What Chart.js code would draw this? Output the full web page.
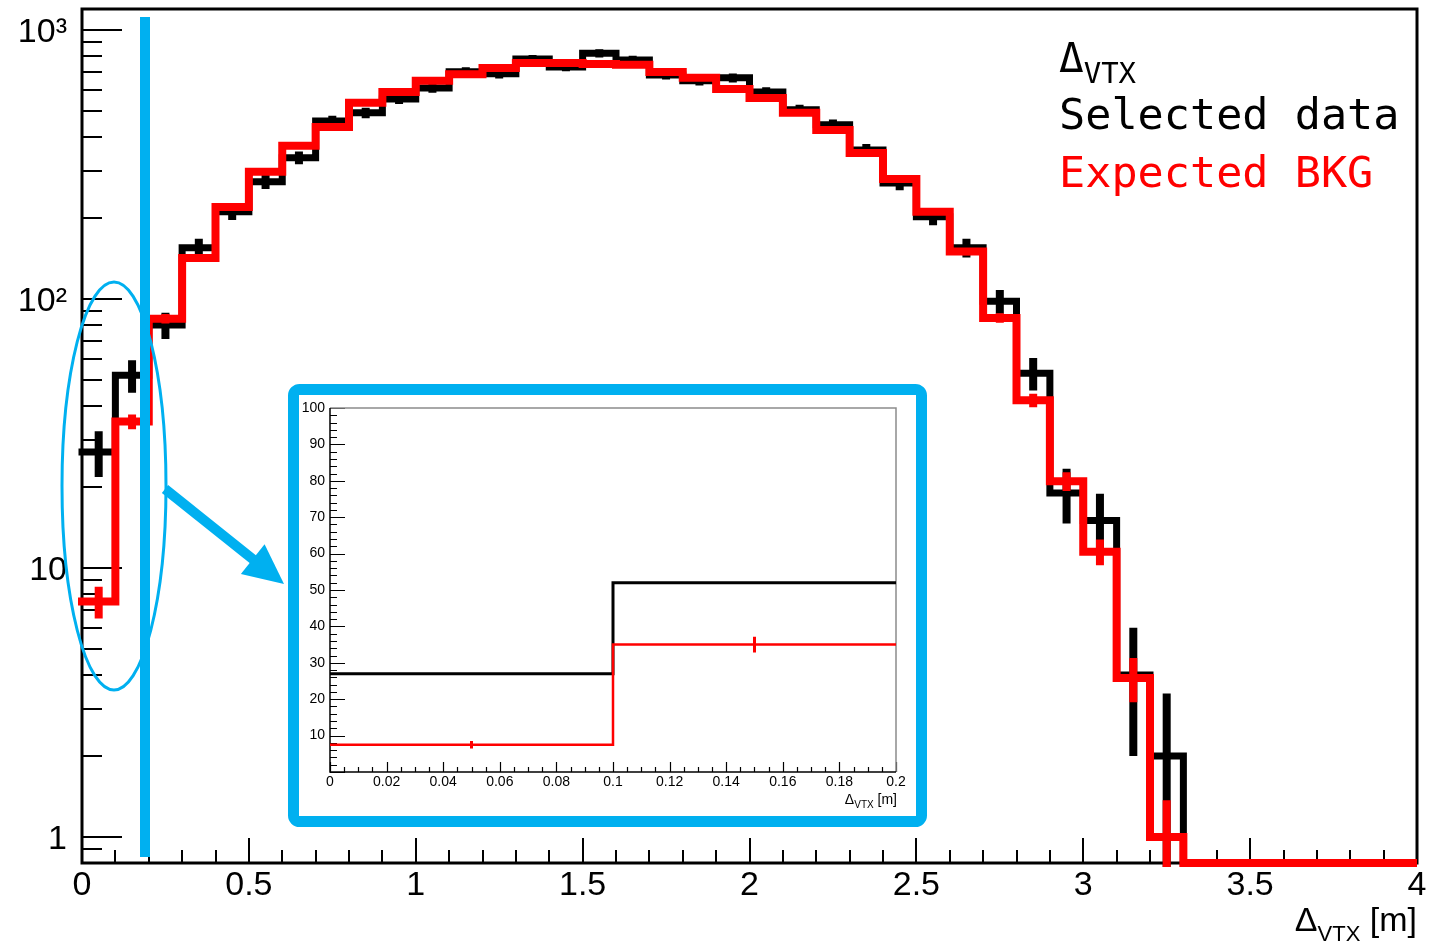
<!DOCTYPE html>
<html>
<head>
<meta charset="utf-8">
<title>ΔVTX</title>
<script src="https://cdn.jsdelivr.net/npm/chart.js@4.4.0/dist/chart.umd.min.js"></script>
<style>
  body { margin: 0; background: #fff; }
  .wrap { position: relative; width: 1435px; height: 942px; }
  #main { position: absolute; left: 0; top: 0; }
  #zoom { position: absolute; left: 299px; top: 395px; background: #fff; }
</style>
</head>
<body>
<div class="wrap">
  <canvas id="main" width="1435" height="942"></canvas>
  <canvas id="zoom" width="617" height="421"></canvas>
</div>
<script>
// Δ_VTX histograms, 40 bins of 0.1 m between 0 and 4 m
const binWidth = 0.1
const nBins = 40
const dataCounts = [27, 52, 80, 155, 211, 273, 335, 459, 492, 554,
  609, 700, 687, 780, 729, 819, 774, 680, 647, 664,
  588, 505, 444, 358, 270, 202, 155, 98, 53, 19,
  15, 4, 2, 0, 0, 0, 0, 0, 0, 0]
const bkgCounts = [7.5, 35, 84.5, 142, 220, 297, 371, 436, 536, 588,
  647, 685, 722, 754, 754, 747, 742, 698, 664, 604,
  559, 492, 425, 349, 279, 211, 150, 85, 42, 21,
  11.5, 3.9, 1.0, 0, 0, 0, 0, 0, 0, 0]
// weight of one expected BKG event (error = weight * sqrt(N))
const bkgErrScale = 0.37

const xTickLabels = ['0', '0.5', '1', '1.5', '2', '2.5', '3', '3.5', '4']
const yTickLabels = [[1, '1'], [10, '10'], [100, '10²'], [1000, '10³']]
const zoomXTickLabels = ['0', '0.02', '0.04', '0.06', '0.08', '0.1', '0.12', '0.14', '0.16', '0.18', '0.2']
const zoomYTickLabels = ['', '10', '20', '30', '40', '50', '60', '70', '80', '90', '100']

const yLogMin = 0.8
const yLogMax = 1197
const BLUE = '#00b0f0'
const RED = '#ff0000'

Chart.defaults.font.family = '"Liberation Sans", Arial, sans-serif'
Chart.defaults.color = '#000'

// step points at the bin edges; empty bins sit on the floor of the axis
const toSteps = (counts, from, to, floor) => {
  const val = v => (v > 0 ? v : floor)
  const pts = counts.slice(from, to).map((v, i) => ({ x: (from + i) * binWidth, y: val(v) }))
  pts.push({ x: to * binWidth, y: val(counts[to - 1]) })
  return pts
}

const drawErrors = (chart, counts, errOf, color, width, to, extraBottom) => {
  const { ctx, chartArea: a, scales: { x, y } } = chart
  ctx.save()
  ctx.beginPath()
  ctx.rect(a.left, a.top, a.right - a.left, a.bottom - a.top + extraBottom)
  ctx.clip()
  ctx.strokeStyle = color
  ctx.lineWidth = width
  ctx.lineCap = 'butt'
  ctx.beginPath()
  for (let i = 0; i < to; i++) {
    const v = counts[i]
    if (!(v > 0)) continue
    const e = errOf(v)
    const px = x.getPixelForValue((i + 0.5) * binWidth)
    const lo = v - e
    ctx.moveTo(px, y.getPixelForValue(v + e))
    ctx.lineTo(px, lo > 0 ? y.getPixelForValue(lo) : a.bottom + 30)
  }
  ctx.stroke()
  ctx.restore()
}

// text runs with sub/superscripts, left or right aligned
const drawRuns = (ctx, x, y, parts, align) => {
  let w = 0
  parts.forEach(p => { ctx.font = p.font; w += ctx.measureText(p.text).width })
  let cx = align === 'right' ? x - w : x
  parts.forEach(p => {
    ctx.font = p.font
    ctx.fillStyle = p.color || '#000'
    ctx.textAlign = 'left'
    ctx.textBaseline = 'alphabetic'
    ctx.fillText(p.text, cx, y + (p.dy || 0))
    cx += ctx.measureText(p.text).width
  })
}

const yMinorValues = [0.8, 0.9]
for (let d = 0; d <= 3; d++) for (let m = 1; m <= 9; m++) if (m * 10 ** d <= 1000) yMinorValues.push(m * 10 ** d)

const mainStyle = {
  id: 'mainStyle',
  beforeDatasetsDraw(chart) {
    const { ctx, chartArea: a, scales: { x, y } } = chart
    ctx.save()
    ctx.strokeStyle = '#000'
    ctx.lineWidth = 2
    ctx.beginPath()
    for (let i = 0; i <= nBins; i++) {
      const px = Math.round(x.getPixelForValue(i * binWidth))
      const len = i % 5 === 0 ? 25 : 13
      ctx.moveTo(px, a.bottom)
      ctx.lineTo(px, a.bottom - len)
    }
    yMinorValues.forEach(v => {
      const py = Math.round(y.getPixelForValue(v))
      const len = Number.isInteger(Math.log10(v)) ? 40 : 20
      ctx.moveTo(a.left, py)
      ctx.lineTo(a.left + len, py)
    })
    ctx.stroke()
    ctx.lineWidth = 3
    ctx.strokeRect(a.left, a.top, a.right - a.left, a.bottom - a.top)
    ctx.restore()
  },
  afterDatasetDraw(chart, args) {
    if (args.index === 1) drawErrors(chart, dataCounts, v => Math.sqrt(v), '#000', 8, nBins, 4)
    if (args.index === 0) drawErrors(chart, bkgCounts, v => bkgErrScale * Math.sqrt(v), RED, 8, nBins, 4)
  },
  afterDraw(chart) {
    const { ctx } = chart
    ctx.save()
    // axis title
    drawRuns(ctx, 1417, 931, [
      { text: 'Δ', font: '34px "Liberation Sans"' },
      { text: 'VTX', font: '22px "Liberation Sans"', dy: 10 },
      { text: ' [m]', font: '34px "Liberation Sans"' }
    ], 'right')
    // legend text
    drawRuns(ctx, 1059, 72, [
      { text: 'Δ', font: '41px "DejaVu Sans Mono"' },
      { text: 'VTX', font: '29px "DejaVu Sans Mono"', dy: 11 }
    ], 'left')
    ctx.font = '43.5px "DejaVu Sans Mono"'
    ctx.fillStyle = '#000'
    ctx.fillText('Selected data', 1059, 129)
    ctx.fillStyle = RED
    ctx.fillText('Expected BKG', 1059, 187)

    // highlight of the first two bins
    ctx.strokeStyle = BLUE
    ctx.fillStyle = BLUE
    ctx.lineWidth = 10
    ctx.lineCap = 'butt'
    ctx.beginPath()
    ctx.moveTo(145, 17)
    ctx.lineTo(145, 857)
    ctx.stroke()
    ctx.lineWidth = 3
    ctx.beginPath()
    ctx.ellipse(114, 486, 52, 204, 0, 0, Math.PI * 2)
    ctx.stroke()
    // arrow
    const sx = 165, sy = 489, tx = 284, ty = 584
    const L = Math.hypot(tx - sx, ty - sy), ux = (tx - sx) / L, uy = (ty - sy) / L
    const hl = 40, hw = 19
    const bx = tx - ux * hl, by = ty - uy * hl
    ctx.lineWidth = 10
    ctx.beginPath()
    ctx.moveTo(sx, sy)
    ctx.lineTo(bx + ux * 2, by + uy * 2)
    ctx.stroke()
    ctx.beginPath()
    ctx.moveTo(tx, ty)
    ctx.lineTo(bx - uy * hw, by + ux * hw)
    ctx.lineTo(bx + uy * hw, by - ux * hw)
    ctx.closePath()
    ctx.fill()
    // frame of the zoomed view
    ctx.lineWidth = 11
    ctx.beginPath()
    ctx.roundRect(293.5, 389.5, 628, 432, 6)
    ctx.stroke()
    ctx.restore()
  }
}

new Chart(document.getElementById('main'), {
  type: 'line',
  data: {
    datasets: [
      {
        label: 'Expected BKG',
        data: toSteps(bkgCounts, 0, nBins, yLogMin),
        borderColor: RED, borderWidth: 8, stepped: true, pointRadius: 0,
        borderJoinStyle: 'miter', borderCapStyle: 'square',
        clip: { left: 8, top: 0, right: 0, bottom: 6 }
      },
      {
        label: 'Selected data',
        data: toSteps(dataCounts, 0, nBins, yLogMin),
        borderColor: '#000', borderWidth: 7, stepped: true, pointRadius: 0,
        borderJoinStyle: 'miter', borderCapStyle: 'square',
        clip: { left: 8, top: 0, right: 0, bottom: 6 }
      }
    ]
  },
  options: {
    responsive: false,
    animation: false,
    events: [],
    layout: { padding: { top: 9, right: 18, left: 0, bottom: 0 } },
    plugins: { legend: { display: false }, tooltip: { enabled: false } },
    scales: {
      x: {
        type: 'linear', min: 0, max: 4,
        grid: { display: false, drawTicks: false },
        border: { display: false },
        ticks: {
          stepSize: 0.5, autoSkip: false, maxRotation: 0, padding: 2,
          font: { size: 34 },
          callback: (v, i) => xTickLabels[i]
        },
        afterFit: s => { s.height = 79; s.paddingLeft = 0; s.paddingRight = 0 }
      },
      y: {
        type: 'logarithmic', min: yLogMin, max: yLogMax,
        grid: { display: false, drawTicks: false },
        border: { display: false },
        ticks: {
          autoSkip: false, padding: 15, labelOffset: 3,
          font: { size: 34 },
          callback: v => {
            const hit = yTickLabels.find(t => Math.abs(Math.log10(v) - Math.log10(t[0])) < 1e-6)
            return hit ? hit[1] : ''
          }
        },
        afterFit: s => { s.width = 82; s.paddingTop = 0; s.paddingBottom = 0 }
      }
    }
  },
  plugins: [mainStyle]
})

// zoom on the first two bins, linear scale
const zoomStyle = {
  id: 'zoomStyle',
  beforeDatasetsDraw(chart) {
    const { ctx, chartArea: a, scales: { x, y } } = chart
    ctx.save()
    ctx.strokeStyle = '#000'
    ctx.lineWidth = 1.2
    ctx.beginPath()
    for (let i = 0; i <= 40; i++) {
      const px = Math.round(x.getPixelForValue(i * 0.005)) + 0.5
      const len = i % 4 === 0 ? 10 : 5
      ctx.moveTo(px, a.bottom)
      ctx.lineTo(px, a.bottom - len)
    }
    for (let i = 0; i <= 50; i++) {
      const py = Math.round(y.getPixelForValue(i * 2)) + 0.5
      const len = i % 5 === 0 ? 15 : 7
      ctx.moveTo(a.left, py)
      ctx.lineTo(a.left + len, py)
    }
    ctx.stroke()
    ctx.strokeStyle = '#8c8c8c'
    ctx.lineWidth = 1.5
    ctx.beginPath()
    ctx.moveTo(a.left, a.top)
    ctx.lineTo(a.right, a.top)
    ctx.lineTo(a.right, a.bottom)
    ctx.stroke()
    ctx.strokeStyle = '#000'
    ctx.beginPath()
    ctx.moveTo(a.left, a.top)
    ctx.lineTo(a.left, a.bottom)
    ctx.lineTo(a.right, a.bottom)
    ctx.stroke()
    ctx.restore()
  },
  afterDatasetDraw(chart, args) {
    if (args.index === 0) drawErrors(chart, bkgCounts, v => bkgErrScale * Math.sqrt(v), RED, 3, 2, 0)
  },
  afterDraw(chart) {
    drawRuns(chart.ctx, 598, 409, [
      { text: 'Δ', font: '14px "Liberation Sans"' },
      { text: 'VTX', font: '10px "Liberation Sans"', dy: 4 },
      { text: ' [m]', font: '14px "Liberation Sans"' }
    ], 'right')
  }
}

new Chart(document.getElementById('zoom'), {
  type: 'line',
  data: {
    datasets: [
      {
        label: 'Expected BKG',
        data: toSteps(bkgCounts, 0, 2, 0),
        borderColor: RED, borderWidth: 2.5, stepped: true, pointRadius: 0,
        borderJoinStyle: 'miter'
      },
      {
        label: 'Selected data',
        data: toSteps(dataCounts, 0, 2, 0),
        borderColor: '#000', borderWidth: 3, stepped: true, pointRadius: 0,
        borderJoinStyle: 'miter'
      }
    ]
  },
  options: {
    responsive: false,
    animation: false,
    events: [],
    layout: { padding: { top: 13, right: 20, left: 0, bottom: 0 } },
    plugins: { legend: { display: false }, tooltip: { enabled: false } },
    scales: {
      x: {
        type: 'linear', min: 0, max: 0.2,
        grid: { display: false, drawTicks: false },
        border: { display: false },
        ticks: {
          stepSize: 0.02, autoSkip: false, maxRotation: 0, padding: 2,
          font: { size: 14 },
          callback: (v, i) => zoomXTickLabels[i]
        },
        afterFit: s => { s.height = 44; s.paddingLeft = 0; s.paddingRight = 0 }
      },
      y: {
        type: 'linear', min: 0, max: 100,
        grid: { display: false, drawTicks: false },
        border: { display: false },
        ticks: {
          stepSize: 10, autoSkip: false, padding: 5,
          font: { size: 14 },
          callback: (v, i) => zoomYTickLabels[i]
        },
        afterFit: s => { s.width = 31; s.paddingTop = 0; s.paddingBottom = 0 }
      }
    }
  },
  plugins: [zoomStyle]
})
</script>
</body>
</html>
